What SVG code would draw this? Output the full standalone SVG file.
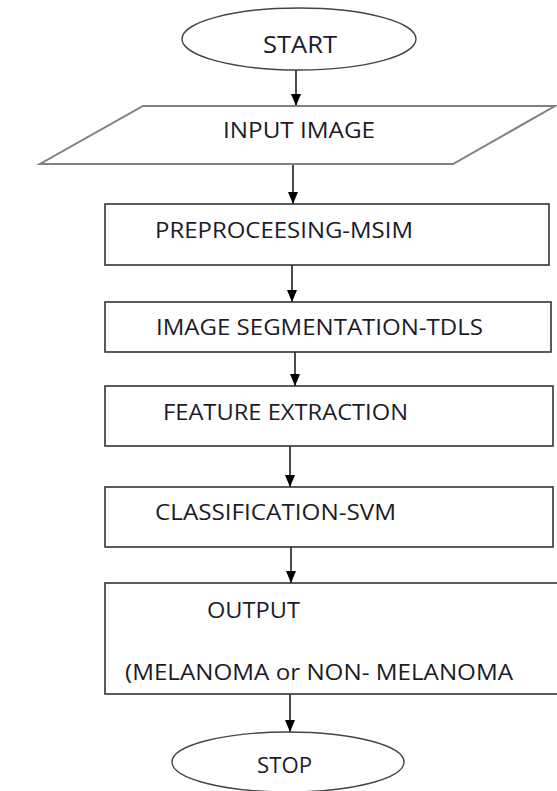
<svg xmlns="http://www.w3.org/2000/svg" width="557" height="791" viewBox="0 0 557 791">
<style>
.box{fill:#fff;stroke:#333;stroke-width:1.6}
.term{fill:#fff;stroke:#444;stroke-width:1.4}
.para{fill:#fff;stroke:#808080;stroke-width:2}
.t{font-family:"Open Sans","Liberation Sans",Arial,sans-serif;font-size:21px;fill:#1c1c28}
.c{stroke:#000;stroke-width:1.4;fill:none}
</style>
<defs>
<marker id="ah" markerWidth="12" markerHeight="10" refX="12" refY="5" orient="auto" markerUnits="userSpaceOnUse" viewBox="0 0 12 10">
<path d="M0,0 L12,5 L0,10 Z" fill="#000"/>
</marker>
</defs>
<rect width="557" height="791" fill="#fff"/>
<g id="connectors">
<line class="c" x1="296" y1="70" x2="296" y2="106" marker-end="url(#ah)"/>
<line class="c" x1="293" y1="164" x2="293" y2="204" marker-end="url(#ah)"/>
<line class="c" x1="292" y1="265" x2="292" y2="302" marker-end="url(#ah)"/>
<line class="c" x1="295" y1="352" x2="295" y2="386" marker-end="url(#ah)"/>
<line class="c" x1="290" y1="446" x2="290" y2="487" marker-end="url(#ah)"/>
<line class="c" x1="291" y1="547" x2="291" y2="583" marker-end="url(#ah)"/>
<line class="c" x1="290" y1="694" x2="290" y2="732" marker-end="url(#ah)"/>
</g>
<g id="start">
<ellipse class="term" cx="299" cy="39" rx="117" ry="31"/>
<text class="t" x="263" y="53" textLength="74" lengthAdjust="spacingAndGlyphs" style="font-size:24px">START</text>
</g>
<g id="input">
<polygon class="para" points="143,106 555,106 453,164 40,164"/>
<text class="t" x="223" y="138" textLength="152" lengthAdjust="spacingAndGlyphs">INPUT IMAGE</text>
</g>
<g id="preprocessing">
<rect class="box" x="105" y="204" width="444" height="61"/>
<text class="t" x="155" y="238" textLength="258" lengthAdjust="spacingAndGlyphs">PREPROCEESING-MSIM</text>
</g>
<g id="segmentation">
<rect class="box" x="105" y="302" width="446" height="50"/>
<text class="t" x="156" y="335" textLength="327" lengthAdjust="spacingAndGlyphs">IMAGE SEGMENTATION-TDLS</text>
</g>
<g id="feature">
<rect class="box" x="105" y="386" width="448" height="60"/>
<text class="t" x="163" y="420" textLength="245" lengthAdjust="spacingAndGlyphs">FEATURE EXTRACTION</text>
</g>
<g id="classification">
<rect class="box" x="105" y="487" width="448" height="60"/>
<text class="t" x="155" y="520" textLength="241" lengthAdjust="spacingAndGlyphs">CLASSIFICATION-SVM</text>
</g>
<g id="output">
<rect class="box" x="105" y="583" width="460" height="111"/>
<text class="t" x="207" y="618" textLength="93" lengthAdjust="spacingAndGlyphs">OUTPUT</text>
<text class="t" x="125" y="680" textLength="388" lengthAdjust="spacingAndGlyphs">(MELANOMA or NON- MELANOMA</text>
</g>
<g id="stop">
<ellipse class="term" cx="288" cy="762" rx="116" ry="30"/>
<text class="t" x="257" y="773" textLength="55" lengthAdjust="spacingAndGlyphs">STOP</text>
</g>
</svg>
